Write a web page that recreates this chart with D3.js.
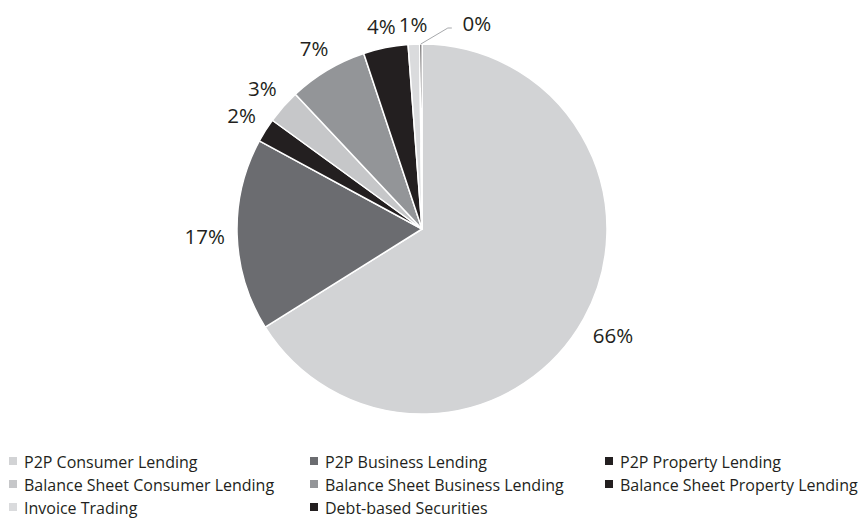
<!DOCTYPE html>
<html>
<head>
<meta charset="utf-8">
<script src="https://cdn.jsdelivr.net/npm/d3@7"></script>
<style>
  html, body { margin: 0; padding: 0; background: #ffffff; }
  svg { display: block; }
</style>
</head>
<body>
<svg id="chart" width="863" height="518"></svg>
<script>
// ---- data ----
const categories = [
  "P2P Consumer Lending",
  "P2P Business Lending",
  "P2P Property Lending",
  "Balance Sheet Consumer Lending",
  "Balance Sheet Business Lending",
  "Balance Sheet Property Lending",
  "Invoice Trading",
  "Debt-based Securities"
];
const values = [66.1, 16.8, 2.1, 3.0, 6.9, 3.9, 1.0, 0.2];
const colors = ["#D2D3D5", "#6B6C70", "#231F20", "#C6C7C9", "#939598", "#231F20", "#DADBDD", "#231F20"];

// ---- layout ----
const svg = d3.select("#chart");
const cx = 422, cy = 229, R = 185;
const labelGap = 12;
const labelFont = "'Open Sans', sans-serif";

const pie = d3.pie().sort(null).value(d => d);
const arcs = pie(values);
const arc = d3.arc().innerRadius(0).outerRadius(R);

const g = svg.append("g").attr("transform", `translate(${cx},${cy})`);

g.selectAll("path.slice")
  .data(arcs)
  .join("path")
  .attr("class", "slice")
  .attr("d", arc)
  .attr("fill", (d, i) => colors[i])
  .attr("stroke", "#ffffff")
  .attr("stroke-width", 1.5)
  .attr("stroke-linejoin", "round");

// labels
const fmt = v => Math.round(v) + "%";
arcs.forEach((d, i) => {
  const mid = (d.startAngle + d.endAngle) / 2;
  const dx = Math.sin(mid), dy = -Math.cos(mid);
  const t = g.append("text")
    .attr("font-family", labelFont)
    .attr("font-size", 20.5)
    .attr("fill", "#231F20")
    .attr("text-anchor", "middle")
    .attr("dominant-baseline", "central")
    .text(fmt(values[i]));
  const bb = t.node().getBBox();
  const hw = bb.width / 2, hh = 7.5;
  if (i === arcs.length - 1) {
    // tiny last slice: label displaced to the right with leader line
    const px = dx * R, py = dy * R;
    const lx = px + 56, ly = -206;
    t.attr("x", lx).attr("y", ly);
    g.append("polyline")
      .attr("points", [[px, py], [px + 27, ly + 5], [px + 31, ly + 5]].map(p => p.join(",")).join(" "))
      .attr("fill", "none")
      .attr("stroke", "#A7A9AC")
      .attr("stroke-width", 1);
  } else {
    const h = hw * Math.abs(dx) + hh * Math.abs(dy);
    const r = R + labelGap + h;
    t.attr("x", dx * r).attr("y", dy * r);
  }
});

// legend
const legendCols = [9, 310, 605];
const legendBaselines = [468, 491, 514];
const legend = svg.append("g");
categories.forEach((c, i) => {
  const col = i % 3, row = Math.floor(i / 3);
  const x = legendCols[col], y = legendBaselines[row];
  legend.append("rect")
    .attr("x", x).attr("y", y - 11)
    .attr("width", 8).attr("height", 8)
    .attr("fill", colors[i]);
  legend.append("text")
    .attr("x", x + 15).attr("y", y)
    .attr("font-family", labelFont)
    .attr("font-size", 16)
    .attr("fill", "#231F20")
    .text(c);
});
</script>
</body>
</html>
